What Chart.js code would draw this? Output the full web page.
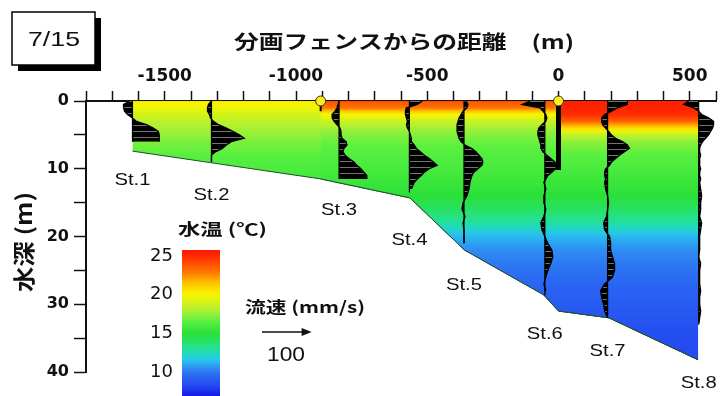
<!DOCTYPE html>
<html lang="ja">
<head>
<meta charset="utf-8">
<title>7/15 水温・流速断面</title>
<script src="https://cdn.jsdelivr.net/npm/chart.js@4.4.1/dist/chart.umd.min.js"></script>
<style>
  body { margin: 0; background: #fff; }
  .wrap { position: relative; width: 722px; height: 396px; overflow: hidden; }
  #cbar { position: absolute; left: 130px; top: 240px; }
</style>
</head>
<body>
<div class="wrap">
  <canvas id="section" width="722" height="396"></canvas>
  <canvas id="cbar" width="100" height="156"></canvas>
</div>
<script>
// 文字
const dateLabel = '7/15';
const xTitle = '分画フェンスからの距離　(m)';
const yTitle = '水深 (m)';
const tempTitle = '水温 (℃)';
const speedTitle = '流速 (mm/s)';
const legendSpeed = 100;

// 軸の目盛
const distLabels = [-1500, -1000, -500, 0, 500];
const depthLabels = [0, 10, 20, 30, 40];

// 測点
const stationNames = ['St.1', 'St.2', 'St.3', 'St.4', 'St.5', 'St.6', 'St.7', 'St.8'];
const stationX = [-1623, -1322, -836, -568, -360, -52, 187, 534];
const stationBottom = [6, 9, 11.5, 13.5, 21, 28.7, 32, 32.7];
const labelDepth = [11.7, 13.9, 16.1, 20.5, 27.2, 34.5, 36.9, 41.6];

// 湖底線
const bottomX = [-1623, -906, -566, -358, -57, 0, 192, 532];
const bottomDepth = [7.4, 11.5, 14.3, 22.0, 28.6, 31.0, 32.0, 38.2];

// 分画フェンス
const fenceX = [-906, 0];
const fenceDepth = [1.5, 10.2];

// 水温 (深さ別)
const tempDepth = [0, 1, 2, 3, 4, 5, 6, 8, 10, 12, 14, 16, 18, 20, 22, 24, 28, 34, 40];
const tempWest = [20.3, 19.8, 19.0, 18.4, 17.9, 17.5, 17.1, 16.5, 16.1, 15.8, 15.5, 14.5, 13.0, 11.5, 10.5, 10.0, 9.3, 8.5, 8.0];
const tempMid = [24.0, 23.0, 20.0, 18.7, 17.8, 17.2, 16.8, 16.3, 16.0, 15.5, 15.0, 14.0, 12.8, 11.3, 10.5, 10.0, 9.3, 8.5, 8.0];
const tempEast = [25.5, 25.3, 25.0, 23.5, 20.8, 18.5, 17.4, 16.5, 16.0, 15.5, 15.0, 14.0, 12.8, 11.3, 10.5, 10.0, 9.3, 8.5, 8.0];

// カラーバー
const cmapTemp = [7, 8, 9.5, 10.5, 11.5, 12.5, 13.5, 15, 16.5, 18, 20, 21.5, 23, 25, 26];
const cmapColor = ['#1818e8', '#2244f0', '#2a66f2', '#2f8cf2', '#26c4f0', '#22dcb4', '#26e27a', '#2ae038',
                   '#58f040', '#b0f034', '#f6f600', '#ffc400', '#ff7400', '#ff2a00', '#ff1400'];
const cbarRange = [6.9, 25.8];
const cbarTicks = [10, 15, 20, 25];

// 流速プロファイル (mm/s, 右向き正)
const profDepth = [0, 0.5, 1, 1.5, 2, 2.5, 3, 3.5, 4, 4.5, 5, 5.5, 6, 6.5, 7, 7.5, 8, 8.5, 9, 9.5, 10, 10.5, 11, 11.5, 12,
                   13, 14, 15, 16, 17, 18, 19, 20, 21, 22, 23, 24, 25, 26, 27, 28, 29, 30, 31, 32, 33];
const velSt1 = [-6, -18, -18, -16, -10, 0, 8, 28, 42, 52, 54, 54, 54];
const velSt2 = [0, -6, -8, -8, -4, -2, 4, 14, 30, 44, 56, 66, 40, 30, 22, 8, 0, 0, 0];
const velSt3 = [0, -2, -4, -8, -14, -14, -10, -4, 2, 4, 4, 6, 14, 16, 10, 8, 12, 20, 30, 36, 44, 50, 56, 56];
const velSt4 = [26, 16, -6, -8, -8, -6, -4, -6, -4, 0, 2, 4, 4, 10, 14, 22, 30, 40, 48, 56, 40, 30, 24, 16, 10, 4];
const velSt5 = [4, 8, 6, -2, -6, -10, -12, -14, -14, -14, -12, -10, -6, 2, 16, 24, 30, 36, 38, 36, 28, 20, 16, 14, 12,
                10, 6, -2, -4, 2, -2, 0, 0, 0];
const velSt6 = [-30, -46, -10, -4, 2, 4, 2, -6, -12, -14, -14, -12, -10, -8, -8, -4, 4, 12, 20, 24, 22, 14, 6, 2, -2,
                2, -2, -2, 2, -2, -8, -6, 0, 6, 14, 16, 12, 6, 2, -2, 2];
const velSt7 = [40, 40, 20, 8, -6, -12, -12, -10, -4, 2, 8, 16, 30, 40, 44, 34, 24, 16, 8, 4, -4, -6, -6, -4, -6,
                -4, 0, 2, 0, -2, -8, -6, 4, 6, 6, 10, 14, 14, 10, -6, -14, -12, -8, -6, 0];
const velSt8 = [-20, -30, -10, 0, 6, 20, 30, 30, 28, 24, 20, 14, 8, 4, 2, 2, 4, 2, 2, 2, 4, 2, 2, 4, 2,
                4, 6, 4, 4, 2, 6, 4, 2, 2, 2, 0, 4, 2, 2, 2, 4, 2, 2, 4, 2, 0];
const velocities = [velSt1, velSt2, velSt3, velSt4, velSt5, velSt6, velSt7, velSt8];

// 流速 1 mm/s を距離軸上で何 m に描くか
const velScale = 1.89;

const hex = c => [1, 3, 5].map(i => parseInt(c.slice(i, i + 2), 16));

const lerp = (xs, ys, v) => {
    if (v <= xs[0]) return ys[0];
    for (let i = 1; i < xs.length; i++) {
        if (v <= xs[i]) {
            const t = (v - xs[i - 1]) / (xs[i] - xs[i - 1]);
            return ys[i - 1] + t * (ys[i] - ys[i - 1]);
        }
    }
    return ys[ys.length - 1];
};

const tempColor = t => {
    const tt = Math.min(Math.max(t, cmapTemp[0]), cmapTemp[cmapTemp.length - 1]);
    let i = 1;
    while (i < cmapTemp.length - 1 && tt > cmapTemp[i]) i++;
    const f = (tt - cmapTemp[i - 1]) / (cmapTemp[i] - cmapTemp[i - 1]);
    const a = hex(cmapColor[i - 1]), b = hex(cmapColor[i]);
    const rgb = a.map((v, k) => Math.round(v + f * (b[k] - v)));
    return `rgb(${rgb.join(',')})`;
};

// 深さ方向のグラデーション
const depthGradient = (chart, temps) => {
    const {ctx, chartArea, scales} = chart;
    if (!chartArea) return 'rgba(0,0,0,0)';
    const top = scales.y.getPixelForValue(0);
    const bot = scales.y.getPixelForValue(40);
    const g = ctx.createLinearGradient(0, top, 0, bot);
    for (let d = 0; d <= 40; d += 0.5) {
        g.addColorStop(d / 40, tempColor(lerp(tempDepth, temps, d)));
    }
    return g;
};

// 流速の塗り: 黒地に細い白線
const hatchPattern = ctx => {
    const c = document.createElement('canvas');
    c.width = 4;
    c.height = 6;
    const g = c.getContext('2d');
    g.fillStyle = '#000';
    g.fillRect(0, 0, 4, 6);
    g.fillStyle = 'rgba(255,255,255,0.45)';
    g.fillRect(0, 5, 4, 1);
    return ctx.createPattern(c, 'repeat');
};

const fitText = (ctx, text, x, y, font, width) => {
    ctx.save();
    ctx.font = font;
    const w = ctx.measureText(text).width;
    ctx.translate(x, y);
    ctx.scale(width / w, 1);
    ctx.textAlign = 'left';
    ctx.textBaseline = 'middle';
    ctx.fillText(text, 0, 0);
    ctx.restore();
};

const sectionCtx = document.getElementById('section').getContext('2d');
const hatch = hatchPattern(sectionCtx);
const datasets = [];

// 水温の塗り: 区画ごとに東端まで重ねて描き、境目の隙間をなくす
const regions = [
    {from: 0, temps: tempWest, order: 12},
    {from: 1, temps: tempMid, order: 11},
    {from: 5, temps: tempEast, order: 10}
];
regions.forEach(r => {
    const pts = [];
    for (let i = r.from; i < bottomX.length; i++) pts.push({x: bottomX[i], y: bottomDepth[i]});
    datasets.push({
        indexAxis: 'x',
        data: pts,
        fill: {value: 0},
        backgroundColor: c => depthGradient(c.chart, r.temps),
        borderColor: '#24502a',
        borderWidth: 1,
        pointRadius: 0,
        clip: false,
        order: r.order
    });
});

// 流速プロファイルと基線
velocities.forEach((vel, i) => {
    datasets.push({
        indexAxis: 'y',
        data: vel.map((v, k) => ({x: stationX[i] + v * velScale, y: profDepth[k]})),
        fill: {value: stationX[i]},
        backgroundColor: hatch,
        borderColor: '#000',
        borderWidth: 1.3,
        pointRadius: 0,
        clip: false,
        order: 5
    });
    datasets.push({
        data: [{x: stationX[i], y: 0}, {x: stationX[i], y: stationBottom[i]}],
        borderColor: '#000',
        borderWidth: 1.2,
        pointRadius: 0,
        clip: false,
        order: 4
    });
});

// フェンスとブイ
fenceX.forEach((fx, i) => {
    datasets.push({
        data: [{x: fx, y: 0}, {x: fx, y: fenceDepth[i]}],
        borderColor: '#000',
        borderWidth: i === 0 ? 2 : 5,
        borderCapStyle: 'butt',
        pointRadius: 0,
        clip: false,
        order: 2
    });
});
datasets.push({
    type: 'scatter',
    data: fenceX.map(fx => ({x: fx, y: 0})),
    pointRadius: 5,
    pointBackgroundColor: '#ffec1a',
    pointBorderColor: '#333',
    pointBorderWidth: 1,
    clip: false,
    order: 0
});

const sectionText = {
    id: 'sectionText',
    afterDraw(chart) {
        const {ctx, scales: {x, y}} = chart;
        ctx.save();

        // 日付ボックス
        ctx.fillStyle = '#000';
        ctx.fillRect(18, 18, 83, 53);
        ctx.fillStyle = '#fff';
        ctx.fillRect(12, 12, 83, 53);
        ctx.strokeStyle = '#000';
        ctx.lineWidth = 1.5;
        ctx.strokeRect(12, 12, 83, 53);

        ctx.fillStyle = '#111';
        fitText(ctx, dateLabel, 28, 40, '21px "Liberation Sans"', 52);
        fitText(ctx, xTitle, 234, 42, 'bold 19px "Noto Sans CJK JP"', 340);

        ctx.save();
        ctx.translate(24, 242);
        ctx.rotate(-Math.PI / 2);
        fitText(ctx, yTitle, -50, 0, 'bold 22px "Noto Sans CJK JP"', 100);
        ctx.restore();

        // 測点名
        stationNames.forEach((name, i) => {
            fitText(ctx, name, x.getPixelForValue(stationX[i]) - 18, y.getPixelForValue(labelDepth[i]),
                '17px "Liberation Sans"', 36);
        });

        // 凡例
        fitText(ctx, tempTitle, 178, 229, 'bold 16px "Noto Sans CJK JP"', 89);
        fitText(ctx, speedTitle, 245, 307, 'bold 16px "Noto Sans CJK JP"', 120);

        const len = x.getPixelForValue(legendSpeed * velScale) - x.getPixelForValue(0);
        const ax = 262, ay = 332;
        ctx.strokeStyle = '#111';
        ctx.lineWidth = 1.5;
        ctx.beginPath();
        ctx.moveTo(ax, ay);
        ctx.lineTo(ax + len - 6, ay);
        ctx.stroke();
        ctx.beginPath();
        ctx.moveTo(ax + len, ay);
        ctx.lineTo(ax + len - 10, ay - 4);
        ctx.lineTo(ax + len - 10, ay + 4);
        ctx.closePath();
        ctx.fill();
        fitText(ctx, String(legendSpeed), 267, 355, '20px "Liberation Sans"', 38);

        ctx.restore();
    }
};

new Chart(sectionCtx, {
    type: 'line',
    data: {datasets},
    options: {
        responsive: false,
        animation: false,
        devicePixelRatio: 1,
        events: [],
        layout: {padding: {left: 0, right: 0, top: 0, bottom: 24}},
        plugins: {legend: {display: false}, tooltip: {enabled: false}},
        scales: {
            x: {
                type: 'linear',
                position: 'top',
                min: -1800,
                max: 600,
                afterFit: s => { s.height = 101; s.paddingLeft = 0; s.paddingRight = 0; },
                ticks: {
                    stepSize: 100,
                    autoSkip: false,
                    maxRotation: 0,
                    padding: 4,
                    color: '#111',
                    font: {family: 'DejaVu Sans', size: 17, weight: 'bold'},
                    callback: v => distLabels.includes(v) ? String(v) : ''
                },
                grid: {drawOnChartArea: false, tickLength: 10, tickWidth: 1.5, tickColor: '#111'},
                border: {display: true, color: '#111', width: 2}
            },
            y: {
                type: 'linear',
                reverse: true,
                min: 0,
                max: 40,
                afterFit: s => { s.width = 86; s.paddingTop = 0; s.paddingBottom = 0; },
                ticks: {
                    stepSize: 5,
                    padding: 5,
                    color: '#111',
                    font: {family: 'DejaVu Sans', size: 16, weight: 'bold'},
                    callback: v => depthLabels.includes(v) ? String(v) : ''
                },
                grid: {drawOnChartArea: false, tickLength: 12, tickWidth: 1.5, tickColor: '#111'},
                border: {display: true, color: '#111', width: 2}
            }
        }
    },
    plugins: [sectionText]
});

// カラーバー
const cbarGradient = chart => {
    const {ctx, chartArea, scales} = chart;
    if (!chartArea) return 'rgba(0,0,0,0)';
    const top = scales.y.getPixelForValue(cbarRange[1]);
    const bot = scales.y.getPixelForValue(cbarRange[0]);
    const g = ctx.createLinearGradient(0, top, 0, bot);
    const n = 40;
    for (let k = 0; k <= n; k++) {
        const t = cbarRange[1] - (cbarRange[1] - cbarRange[0]) * k / n;
        g.addColorStop(k / n, tempColor(t));
    }
    return g;
};

new Chart(document.getElementById('cbar'), {
    type: 'bar',
    data: {
        labels: [''],
        datasets: [{
            data: [cbarRange],
            backgroundColor: c => cbarGradient(c.chart),
            borderWidth: 0,
            barPercentage: 1,
            categoryPercentage: 1
        }]
    },
    options: {
        responsive: false,
        animation: false,
        devicePixelRatio: 1,
        events: [],
        layout: {padding: {top: 10, right: 10, bottom: 0, left: 0}},
        plugins: {legend: {display: false}, tooltip: {enabled: false}},
        scales: {
            x: {display: false},
            y: {
                min: cbarRange[0],
                max: cbarRange[1],
                afterBuildTicks: s => { s.ticks = cbarTicks.map(v => ({value: v})); },
                afterFit: s => { s.width = 52; s.paddingTop = 0; s.paddingBottom = 0; },
                ticks: {padding: 9, color: '#111', font: {family: 'DejaVu Sans', size: 18}},
                grid: {display: false, drawTicks: false},
                border: {display: false}
            }
        }
    }
});
</script>
</body>
</html>
